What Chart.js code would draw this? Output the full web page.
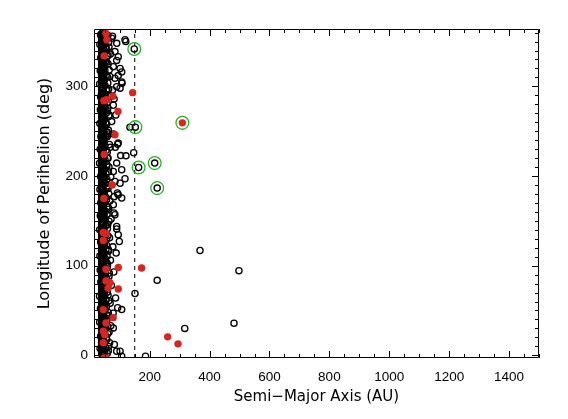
<!DOCTYPE html>
<html><head><meta charset="utf-8">
<script src="https://cdn.jsdelivr.net/npm/chart.js@4.4.0/dist/chart.umd.min.js"></script>
<style>html,body{margin:0;padding:0;background:#fff;}canvas{display:block;}</style>
</head><body>
<canvas id="c" width="568" height="419"></canvas>
<script>
// ---- axis ranges and tick labels ----
const X_MIN = 14, X_MAX = 1500, Y_MIN = -3, Y_MAX = 364;
const xTickLabels = [200, 400, 600, 800, 1000, 1200, 1400];
const yTickLabels = [0, 100, 200, 300];
const xMinorStep = 50, yMinorStep = 10;
const cutoffA = 150; // dashed line (AU)

// ---- data: [semi-major axis (AU), longitude of perihelion (deg)] ----
const resonantA = 39.4;
const resonantL = [2.3,5.9,9.4,13.8,17.1,20.6,25.2,28.7,31.4,35.9,39.5,43.1,47.6,50.2,54.8,58.3,61.7,65.2,69.9,72.4,76.8,80.1,83.7,87.2,91.6,94.3,98.9,101.5,105.1,108.7,112.4,116.8,119.5,123.3,127.7,130.2,134.6,137.9,141.4,145.8,148.3,152.9,156.4,159.1,163.5,166.8,170.3,174.9,177.6,181.2,185.7,188.4,192.8,195.3,199.6,203.1,206.7,210.2,214.8,217.4,221.9,225.5,228.1,232.6,235.2,239.7,242.3,246.8,249.4,253.9,256.5,260.1,264.6,267.2,271.8,274.4,278.9,281.5,285.1,288.6,292.2,295.7,299.3,302.8,306.4,309.9,313.5,317.1,320.6,324.2,327.7,331.3,334.8,338.4,341.9,345.5,349.1,352.6,356.2,359.0];

const hotClassical = [[41.2,0.3],[40.6,3.5],[42.3,7.1],[41.7,10.4],[40.9,13.6],[42.6,16.9],[41.4,20.2],[40.7,23.5],[42.1,26.8],[41.9,30.1],[40.5,33.4],[42.8,36.6],[41.3,39.9],[40.8,43.2],[42.4,46.5],[41.6,49.8],[40.6,53.0],[42.0,56.3],[41.1,59.6],[40.9,62.9],[42.7,66.2],[41.5,69.4],[40.7,72.7],[42.2,76.0],[41.8,79.3],[40.5,82.6],[42.5,85.8],[41.0,89.1],[40.8,92.4],[42.9,95.7],[41.4,99.0],[40.6,102.2],[42.3,105.5],[41.7,108.8],[40.9,112.1],[42.6,115.4],[41.2,118.6],[40.7,121.9],[42.1,125.2],[41.9,128.5],[40.5,131.8],[42.8,135.0],[41.3,138.3],[40.8,141.6],[42.4,144.9],[41.6,148.2],[40.6,151.4],[42.0,154.7],[41.1,158.0],[40.9,161.3],[42.7,164.6],[41.5,167.8],[40.7,171.1],[42.2,174.4],[41.8,177.7],[40.5,181.0],[42.5,184.2],[41.0,187.5],[40.8,190.8],[42.9,194.1],[41.4,197.4],[40.6,200.6],[42.3,203.9],[41.7,207.2],[40.9,210.5],[42.6,213.8],[41.2,217.0],[40.7,220.3],[42.1,223.6],[41.9,226.9],[40.5,230.2],[42.8,233.4],[41.3,236.7],[40.8,240.0],[42.4,243.3],[41.6,246.6],[40.6,249.8],[42.0,253.1],[41.1,256.4],[40.9,259.7],[42.7,263.0],[41.5,266.2],[40.7,269.5],[42.2,272.8],[41.8,276.1],[40.5,279.4],[42.5,282.6],[41.0,285.9],[40.8,289.2],[42.9,292.5],[41.4,295.8],[40.6,299.0],[42.3,302.3],[41.7,305.6],[40.9,308.9],[42.6,312.2],[41.2,315.4],[40.7,318.7],[42.1,322.0],[41.9,325.3],[40.5,328.6],[42.8,331.8],[41.3,335.1],[40.8,338.4],[42.4,341.7],[41.6,345.0],[40.6,348.2],[42.0,351.5],[41.1,354.8],[40.9,358.1]];

const classical = [[44.1,1.2],[42.8,4.0],[45.6,6.3],[43.5,8.9],[46.7,11.6],[44.9,14.0],[43.0,16.8],[45.2,19.1],[42.5,22.0],[46.1,24.4],[44.4,27.3],[43.2,29.5],[45.9,32.6],[42.9,35.0],[46.4,37.7],[44.0,40.2],[43.7,42.9],[45.4,45.6],[42.6,48.0],[46.9,50.8],[44.6,53.3],[43.3,56.1],[45.8,58.4],[42.7,61.2],[46.3,63.9],[44.2,66.5],[43.9,69.0],[45.1,71.8],[42.4,74.3],[46.6,77.0],[44.8,79.6],[43.1,82.2],[45.7,84.9],[42.9,87.5],[46.2,90.1],[44.3,92.8],[43.6,95.4],[45.3,98.1],[42.6,100.7],[46.8,103.2],[44.7,106.0],[43.4,108.6],[45.5,111.3],[42.8,113.9],[46.0,116.5],[44.5,119.2],[43.8,121.8],[45.0,124.5],[42.5,127.1],[46.5,129.7],[44.1,132.4],[43.2,135.0],[45.8,137.6],[42.7,140.3],[46.4,142.9],[44.6,145.6],[43.5,148.2],[45.6,150.8],[42.9,153.5],[46.7,156.1],[44.9,158.8],[43.0,161.4],[45.2,164.0],[42.4,166.7],[46.1,169.3],[44.4,172.0],[43.7,174.6],[45.9,177.2],[42.8,179.9],[46.3,182.5],[44.0,185.2],[43.3,187.8],[45.4,190.4],[42.6,193.1],[46.9,195.7],[44.2,198.4],[43.9,201.0],[45.1,203.6],[42.5,206.3],[46.6,208.9],[44.8,211.6],[43.1,214.2],[45.7,216.8],[42.9,219.5],[46.2,222.1],[44.3,224.8],[43.6,227.4],[45.3,230.0],[42.7,232.7],[46.8,235.3],[44.7,238.0],[43.4,240.6],[45.5,243.2],[42.8,245.9],[46.0,248.5],[44.5,251.2],[43.8,253.8],[45.0,256.4],[42.4,259.1],[46.5,261.7],[44.1,264.4],[43.2,267.0],[45.8,269.6],[42.6,272.3],[46.4,274.9],[44.6,277.6],[43.5,280.2],[45.6,282.8],[42.9,285.5],[46.7,288.1],[44.9,290.8],[43.0,293.4],[45.2,296.0],[42.5,298.7],[46.1,301.3],[44.4,304.0],[43.7,306.6],[45.9,309.2],[42.8,311.9],[46.3,314.5],[44.0,317.2],[43.3,319.8],[45.4,322.4],[42.7,325.1],[46.9,327.7],[44.2,330.4],[43.9,333.0],[45.1,335.6],[42.5,338.3],[46.6,340.9],[44.8,343.6],[43.1,346.2],[45.7,348.8],[42.9,351.5],[46.2,354.1],[44.3,356.8],[43.6,359.4]];

const detached = [[49.5,3.1],[52.8,8.4],[48.2,13.2],[55.1,18.9],[50.6,23.5],[47.9,29.7],[53.7,34.2],[49.1,40.6],[56.4,45.1],[51.3,50.8],[48.6,55.9],[54.2,61.3],[50.1,66.7],[47.7,71.4],[52.5,76.9],[57.3,82.0],[49.8,87.6],[53.0,92.3],[48.4,97.8],[55.8,103.4],[51.0,108.1],[47.8,113.7],[53.9,118.2],[49.3,123.9],[56.0,129.4],[50.9,134.1],[48.0,139.6],[54.6,144.8],[50.4,150.3],[47.6,155.0],[52.2,160.7],[57.0,165.5],[49.6,170.9],[53.3,176.4],[48.5,181.1],[55.4,186.8],[51.5,191.5],[47.9,197.0],[54.0,202.6],[49.0,207.3],[56.7,212.8],[50.7,218.4],[48.3,223.0],[54.9,228.7],[50.2,233.6],[47.7,238.9],[52.6,244.3],[57.5,249.0],[49.9,254.6],[53.5,259.2],[48.1,264.9],[55.3,270.4],[51.1,275.0],[47.8,280.7],[54.4,285.3],[49.4,290.8],[56.2,296.5],[50.8,301.1],[48.4,306.7],[54.7,312.2],[50.3,317.9],[47.6,322.5],[52.9,328.0],[57.8,333.6],[49.7,338.3],[53.6,343.8],[48.7,349.4],[55.6,354.0],[51.4,358.7]];

const outerBelt = [[58.5,2.2],[62.1,9.8],[56.8,17.5],[64.4,26.1],[59.7,31.9],[57.2,39.4],[61.5,47.8],[55.9,54.6],[63.8,60.9],[58.1,70.3],[60.6,78.5],[56.4,85.2],[65.0,91.7],[59.2,101.9],[57.7,110.4],[62.8,116.3],[56.1,122.7],[60.3,133.5],[58.8,141.1],[64.1,149.6],[57.4,157.2],[61.2,164.8],[55.7,173.4],[63.3,180.2],[59.5,189.0],[57.0,196.4],[62.4,204.7],[56.6,211.3],[60.9,219.8],[58.3,226.5],[65.5,235.1],[57.9,243.7],[61.8,251.2],[56.2,257.9],[63.6,266.6],[59.0,272.9],[57.5,281.3],[62.0,289.9],[55.8,295.4],[60.1,303.8],[58.6,310.6],[64.7,318.2],[57.1,326.8],[61.0,334.5],[56.3,341.1],[63.0,348.9],[59.4,355.6]];

const inner = [[34.2,7.5],[36.1,21.3],[33.0,36.8],[35.5,52.1],[32.4,66.0],[36.8,81.7],[34.7,95.2],[33.6,110.9],[36.3,126.4],[32.9,140.2],[35.0,155.7],[36.6,170.1],[33.8,184.9],[35.9,199.5],[32.6,214.3],[34.4,229.8],[36.9,244.0],[33.3,258.6],[35.2,273.9],[36.0,288.4],[32.8,302.7],[34.9,317.5],[36.4,331.8],[33.5,346.6],[35.7,357.3]];

const scattered = [[117.5,352],[120,350],[73,353.6],[76,356],[84,338.8],[95,333],[89.7,329],[101,320],[78.5,322],[106.5,316],[95,312],[84,309],[106.5,305],[89.7,299.6],[101,298],[107.5,303.5],[78.5,279],[73,260.7],[134,254.5],[146.5,226],[103,222.8],[120.8,222.5],[92.8,235.5],[95,236.7],[117.5,197],[101,192],[89.7,214.4],[106.5,207],[78.5,205],[84,194],[95,179],[106.5,175.4],[78.5,168],[84,156.8],[80.8,158.7],[89.7,143.8],[98.5,127],[95,134.5],[80.8,177],[92,181],[89.7,140.9],[106.5,51],[93,53],[101,4.5],[89.7,4.5],[78.5,30.6],[106.5,-1],[150.9,69],[225,83.6],[186,-1],[368,117],[498,94.4],[481.5,35.7],[317,30],
[62,5],[66,14],[60,24],[70,33],[63,44],[68,58],[61,67],[72,78],[64,88],[59,99],[69,106],[62,118],[66,131],[60,146],[71,152],[63,163],[67,172],[61,186],[70,199],[64,210],[59,220],[68,232],[62,247],[65,268],[60,276],[71,289],[63,297],[67,311],[61,325],[69,336],[64,344],[60,357],[82,12],[78,47],[86,64],[80,93],[88,114],[77,121],[85,232],[79,247],[87,268],[81,286],[76,296],[90,348]];

// red filled symbols
const highlighted = [[54,359],[57,352],[48,334],[143,293],[77,289],[47,284],[56,285],[94,272],[84,246],[48,224],[75,190],[47,175],[45,137],[54,136],[45,128],[95,98],[173,97.4],[54,96],[54,83],[67,81],[61,75],[95,74],[45,51],[78,42],[54,36],[45,27],[50,23],[45,14],[54,-3],[48,-3],[260,20.6],[294.5,12.8],[309,259.3]];

// objects circled in green (open black symbols inside, except the red one)
const circledOpen = [[148.5,341.7],[152,254.5],[216.7,214.4],[163,209.5],[225,186.5]];
const circledFilled = [[309,259.3]];

// ---- build datasets ----
const toPts = arr => arr.map(p => ({x: p[0], y: p[1]}));
const blackPts = [].concat(
  resonantL.map(l => ({x: resonantA, y: l})),
  toPts(hotClassical), toPts(classical), toPts(detached), toPts(outerBelt),
  toPts(inner), toPts(scattered), toPts(circledOpen)
);

const frame = {
  id: 'frame',
  afterDatasetsDraw(chart) {
    const {ctx, chartArea: {left, right, top, bottom}, scales: {x, y}} = chart;
    ctx.save();
    ctx.strokeStyle = '#000';
    ctx.lineWidth = 1;
    ctx.beginPath();
    ctx.rect(left + 0.5, top + 0.5, right - left - 1, bottom - top - 1);
    for (let v = Math.ceil(X_MIN / xMinorStep) * xMinorStep; v <= X_MAX; v += xMinorStep) {
      const px = Math.round(x.getPixelForValue(v)) + 0.5;
      const len = xTickLabels.includes(v) ? 7 : 4;
      ctx.moveTo(px, bottom); ctx.lineTo(px, bottom - len);
      ctx.moveTo(px, top); ctx.lineTo(px, top + len);
    }
    for (let v = Math.ceil(Y_MIN / yMinorStep) * yMinorStep; v <= Y_MAX; v += yMinorStep) {
      const py = Math.round(y.getPixelForValue(v)) + 0.5;
      const len = yTickLabels.includes(v) ? 7 : 4;
      ctx.moveTo(left, py); ctx.lineTo(left + len, py);
      ctx.moveTo(right, py); ctx.lineTo(right - len, py);
    }
    ctx.stroke();
    ctx.restore();
  }
};

const tickFont = {family: "'Liberation Sans', Arial, sans-serif", size: 13.5};
const xTitleFont = {family: "'DejaVu Sans', sans-serif", size: 15};
const yTitleFont = {family: "'DejaVu Sans', sans-serif", size: 16};

new Chart(document.getElementById('c').getContext('2d'), {
  type: 'scatter',
  data: {
    datasets: [
      {data: toPts(circledOpen.concat(circledFilled)), order: 1, pointRadius: 6.4, pointBorderWidth: 1.3,
       pointBorderColor: '#22b422', pointBackgroundColor: 'rgba(0,0,0,0)', clip: 0},
      {data: toPts(highlighted), order: 2, pointRadius: 3.7, pointBorderWidth: 0,
       pointBackgroundColor: '#d8251f', pointBorderColor: '#d8251f', clip: 0},
      {type: 'line', data: [{x: cutoffA, y: Y_MIN}, {x: cutoffA, y: Y_MAX}], order: 3,
       borderColor: '#000', borderWidth: 1, borderDash: [4, 4], pointRadius: 0, clip: 0},
      {data: blackPts, order: 4, pointRadius: 3.1, pointBorderWidth: 1.3,
       pointBorderColor: '#000', pointBackgroundColor: 'rgba(0,0,0,0)', clip: 0}
    ]
  },
  options: {
    responsive: false, animation: false, devicePixelRatio: 1,
    layout: {padding: {left: 0, right: 29, top: 29, bottom: 0}},
    plugins: {legend: {display: false}, tooltip: {enabled: false}},
    scales: {
      x: {
        type: 'linear', min: X_MIN, max: X_MAX,
        grid: {display: false, drawTicks: false}, border: {display: false},
        afterBuildTicks: s => { s.ticks = xTickLabels.map(v => ({value: v})); },
        afterFit: s => { s.height = 61; },
        ticks: {font: tickFont, color: '#000', padding: 11, maxRotation: 0, autoSkip: false,
                callback: v => String(v)},
        title: {display: true, text: 'Semi\u2212Major Axis (AU)', font: xTitleFont, color: '#000',
                padding: {top: 0, bottom: 13}}
      },
      y: {
        type: 'linear', min: Y_MIN, max: Y_MAX,
        grid: {display: false, drawTicks: false}, border: {display: false},
        afterBuildTicks: s => { s.ticks = yTickLabels.map(v => ({value: v})); },
        afterFit: s => { s.width = 94; },
        ticks: {font: tickFont, color: '#000', padding: 6, autoSkip: false,
                callback: v => String(v)},
        title: {display: true, text: 'Longitude of Perihelion (deg)', font: yTitleFont, color: '#000',
                padding: {top: 35, bottom: 0}}
      }
    }
  },
  plugins: [frame]
});
</script>
</body></html>
